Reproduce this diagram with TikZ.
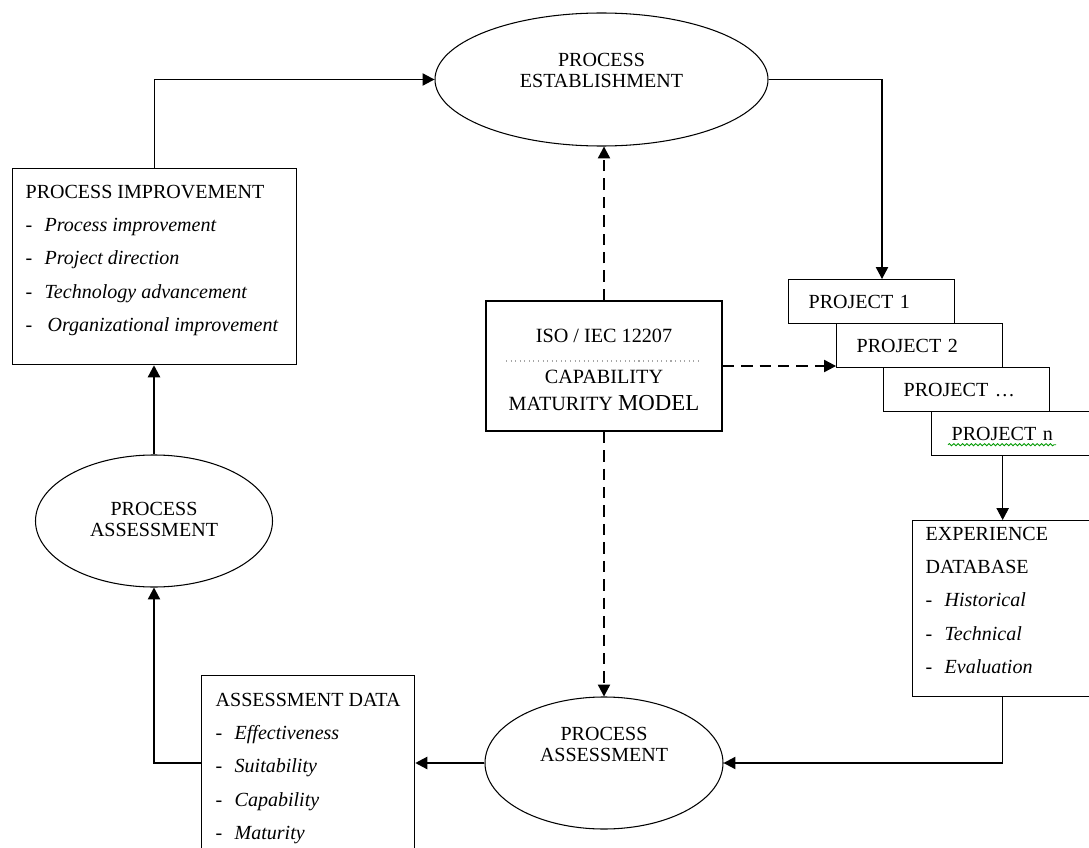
\documentclass[tikz,border=0pt]{standalone}
\usepackage{fontspec}
\setmainfont{Liberation Serif}
\usepackage{tikz}
\usetikzlibrary{shapes.geometric,arrows.meta,decorations.pathmorphing}
\newlength\unitpx
\setlength\unitpx{0.02cm}
% text block raised inside an oval or box without changing its size
\newcommand\lift[2]{\raisebox{#1\unitpx}[0pt][0pt]{\begin{tabular}{@{}c@{}}#2\end{tabular}}}
\newcommand\itm[1]{\mbox{\makebox[19\unitpx][l]{-}\textit{#1}}}

\begin{document}
\begin{tikzpicture}[x=0.02cm,y=-0.02cm,line width=0.75pt]
\tikzstyle{every node}+=[font=\fontsize{11.4}{12}\selectfont]
\tikzstyle{oval}=[draw,ellipse,inner sep=0pt,line width=0.6pt]
\tikzstyle{listbox}=[draw,rectangle,anchor=north west,inner sep=0pt]
\tikzstyle{listtext}=[anchor=north west,align=left,inner sep=0pt,font=\fontsize{11.4}{18.8}\selectfont]
\tikzstyle{projbox}=[draw,rectangle,anchor=north west,fill=white,minimum width=166\unitpx,minimum height=44\unitpx,text width=126\unitpx,inner xsep=20\unitpx,inner ysep=0pt,align=left]
\tikzstyle{flow}=[-{Triangle[length=6.8pt,width=7pt]}]
\tikzstyle{link}=[flow,dash pattern=on 6.5pt off 4pt]
\useasboundingbox (0,0) rectangle (1089,848);

% ovals
\node[oval,minimum width=333\unitpx,minimum height=133\unitpx] (establish) at (601.5,79.5) {\lift{2}{PROCESS\\ESTABLISHMENT}};
\node[oval,minimum width=237\unitpx,minimum height=132\unitpx] (appraise) at (154,521) {\lift{-5.5}{PROCESS\\ASSESSMENT}};
\node[oval,minimum width=238\unitpx,minimum height=132\unitpx] (assess) at (604,763) {\lift{11}{PROCESS\\ASSESSMENT}};

% boxes with lists
\node[listbox,minimum width=284\unitpx,minimum height=196\unitpx,
  label={[listtext,xshift=13\unitpx,yshift=-17\unitpx]north west:{PROCESS IMPROVEMENT\\
  \itm{Process improvement}\\ \itm{Project direction}\\ \itm{Technology advancement}\\
  \itm{\hspace{3\unitpx}Organizational improvement}}}] (improve) at (12,168) {};
\node[listbox,minimum width=180\unitpx,minimum height=176\unitpx,
  label={[listtext,xshift=13\unitpx,yshift=-7\unitpx]north west:{EXPERIENCE\\ DATABASE\\
  \itm{Historical}\\ \itm{Technical}\\ \itm{Evaluation}}}] (experience) at (912,520) {};
\node[listbox,minimum width=213\unitpx,minimum height=185\unitpx,
  label={[listtext,xshift=14\unitpx,yshift=-18\unitpx]north west:{ASSESSMENT DATA\\
  \itm{Effectiveness}\\ \itm{Suitability}\\ \itm{Capability}\\ \itm{Maturity}}}] (data) at (201,675) {};

% model in the middle
\node[draw,rectangle,minimum width=236\unitpx,minimum height=130\unitpx,inner sep=0pt,
  font=\fontsize{11.5}{15.3}\selectfont] (iso) at (604,366)
  {\lift{-10}{ISO / IEC 12207\\[8pt] CAPABILITY\\ MATURITY {\fontsize{13}{14}\selectfont MODEL}}};
\draw[gray!70,dotted,line width=0.6pt] (506,361) -- (702,361);

% projects
\node[projbox] (proj1) at (788,279) {PROJECT 1};
\node[projbox] (proj2) at (836,323) {PROJECT 2};
\node[projbox] (proj3) at (883,367) {PROJECT \dots};
\node[projbox] (projn) at (931,411) {PROJECT n};
\draw[green!60!black,line width=0.5pt,decorate,decoration={snake,amplitude=0.6pt,segment length=2.5pt}]
  ([xshift=17\unitpx,yshift=-4.5\unitpx]projn.base west) -- ++(108,0);

% connectors
\draw[flow] (improve.north) |- (establish.west);
\draw[flow] (establish.east) -| ([xshift=94\unitpx]proj1.north west);
\draw[flow] (experience.north |- projn.south) -- (experience.north);
\draw[flow] (experience.south) |- (assess.east);
\draw[flow] (assess.west) -- (assess.west -| data.east);
\draw[flow] (assess.west -| data.west) -| (appraise.south);
\draw[flow] (appraise.north) -- (appraise.north |- improve.south);
\draw[link] (iso.north) -- (iso.north |- establish.south);
\draw[link] (iso.south) -- (iso.south |- assess.north);
\draw[link] (iso.east) -- (iso.east -| proj2.west);
\end{tikzpicture}
\end{document}
